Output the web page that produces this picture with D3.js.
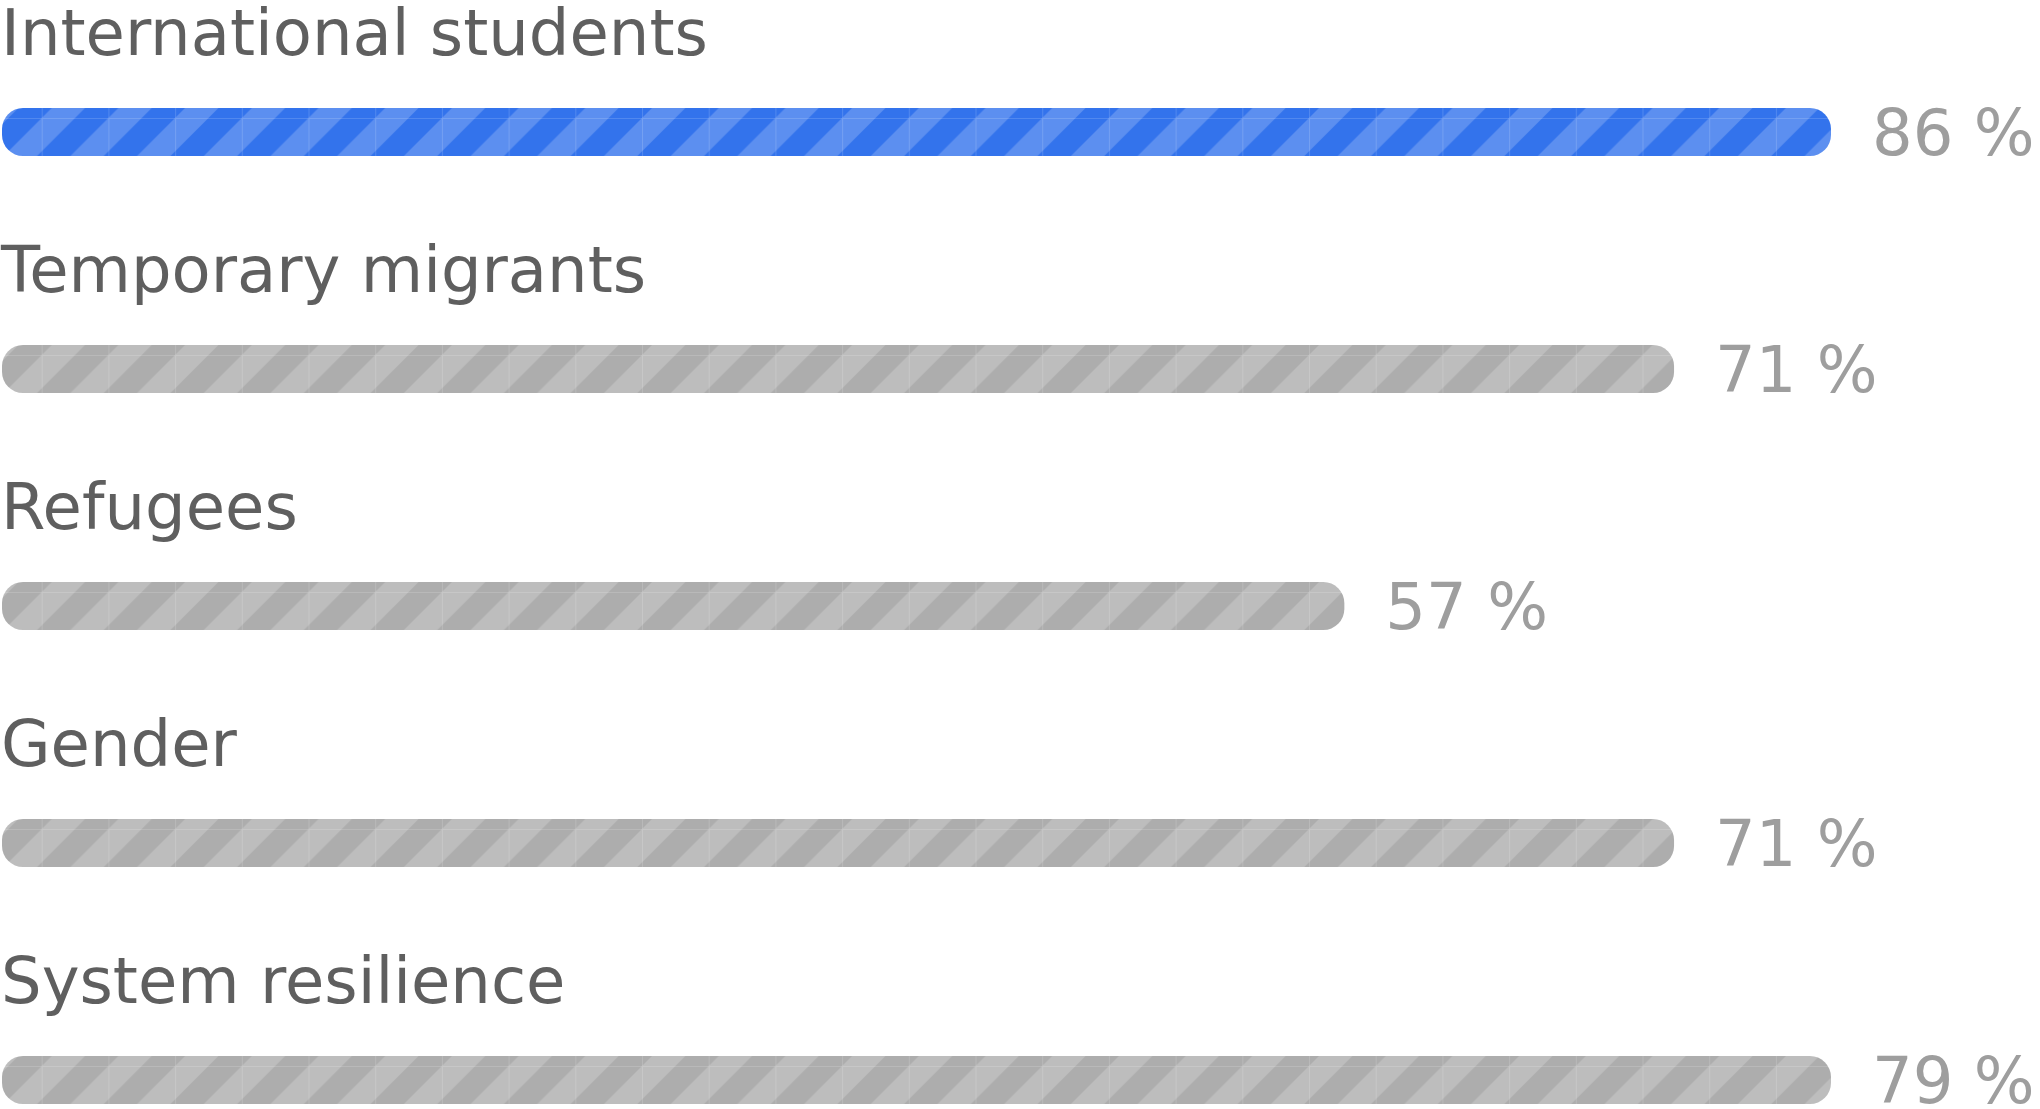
<!DOCTYPE html>
<html>
<head>
<meta charset="utf-8">
<script src="https://cdn.jsdelivr.net/npm/d3@7"></script>
<style>
  body { margin: 0; background: #fff; }
  svg { display: block; }
</style>
</head>
<body>
<div id="my_bars"></div>
<script>
// data
var categories = ["International students", "Temporary migrants", "Refugees", "Gender", "System resilience"];
var values = [86, 71, 57, 71, 79];
var highlight = "International students";

var width = 2040, height = 1109;

var svg = d3.select("#my_bars")
  .append("svg")
  .attr("width", width)
  .attr("height", height);

// striped patterns, one blue and one grey
var tile = 66.7;
var defs = svg.append("defs");
function stripes(id, dark, light) {
  var p = defs.append("pattern")
    .attr("id", id)
    .attr("patternUnits", "userSpaceOnUse")
    .attr("width", tile)
    .attr("height", tile)
    .attr("x", 41.7)
    .attr("y", 51.3);
  p.append("rect").attr("width", tile).attr("height", tile).attr("fill", light);
  // "/" stripes
  p.append("path")
    .attr("fill", dark)
    .attr("d", "M0," + tile / 2 + " L" + tile / 2 + ",0 L" + tile + ",0 L0," + tile + "Z" +
               " M" + tile / 2 + "," + tile + " L" + tile + "," + tile / 2 + " L" + tile + "," + tile + "Z");
  // faint tile seams
  p.append("path")
    .attr("d", "M0.5,0 V" + tile + " M0,0.5 H" + tile)
    .attr("stroke", "#fff")
    .attr("stroke-opacity", 0.15)
    .attr("stroke-width", 1);
}
stripes("blueStripes", "#3373ec", "#5c8ff0");
stripes("greyStripes", "#adadad", "#bdbdbd");

// scales
var y = d3.scaleBand()
  .domain(categories)
  .range([0, 1185]);

var x = d3.scaleLinear()
  .domain([0, 100])
  .range([0, 2355]);

var maxBar = 1829;   // leave room for the value label
function barW(v) { return Math.min(x(v), maxBar); }

var rows = svg.selectAll(".row")
  .data(categories)
  .enter()
  .append("g")
    .attr("class", "row")
    .attr("transform", function(d){ return "translate(0," + y(d) + ")"; });

rows.append("text")
  .attr("x", 1)
  .attr("y", 55)
  .style("font-family", "DejaVu Sans")
  .style("font-size", "64px")
  .style("fill", "#5f5f5f")
  .text(function(d){ return d; });

rows.append("rect")
  .attr("x", 2)
  .attr("y", 108)
  .attr("height", 48)
  .attr("rx", 21)
  .attr("width", function(d, i){ return barW(values[i]); })
  .attr("fill", function(d){ return d == highlight ? "url(#blueStripes)" : "url(#greyStripes)"; });

rows.append("text")
  .attr("x", function(d, i){ return 2 + barW(values[i]) + 41; })
  .attr("y", 155)
  .style("font-family", "DejaVu Sans")
  .style("font-size", "64px")
  .style("fill", "#9e9e9e")
  .text(function(d, i){ return values[i] + " %"; });
</script>
</body>
</html>
